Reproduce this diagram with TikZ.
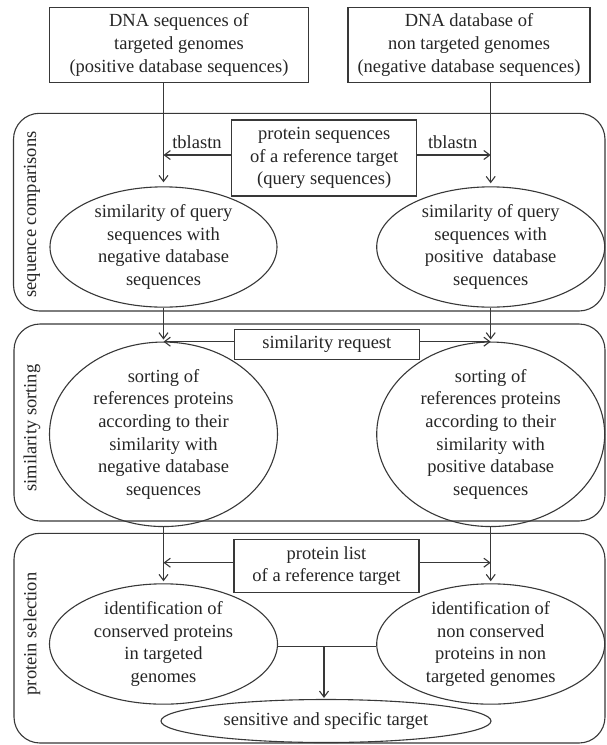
\documentclass[tikz,border=0pt]{standalone}
\usepackage{fontspec}
\setmainfont{Liberation Serif}
\newfontfamily\tnr{Liberation Serif}
\usetikzlibrary{shapes.geometric,arrows.meta}
\begin{document}
\begin{tikzpicture}[x=1pt,y=-1pt,
  every node/.style={font=\tnr\fontsize{18.5}{22.7}\selectfont, text=black!85},
  ln/.style={draw=black!78, line width=1.1pt},
  boxn/.style={ln, rectangle, align=center, inner sep=0pt},
  elln/.style={ln, ellipse, align=center, inner sep=0pt},
  panel/.style={ln, rounded corners=26pt},
  arr/.style={ln, -{Straight Barb[length=6pt,width=9pt]}},
]
\useasboundingbox (0,0) rectangle (606,745);
\fill[white] (0,0) rectangle (606,745);

% panels
\draw[panel] (13.5,113.3) rectangle (605,311);
\draw[panel] (14,324) rectangle (605,521);
\draw[panel] (14,533.3) rectangle (605,743);

\node[rotate=90] (lab1) at (32,214.5) {sequence comparisons};
\node[rotate=90] (lab2) at (32,428) {similarity sorting};
\node[rotate=90] (lab3) at (32,634) {protein selection};

% top boxes
\node[boxn, minimum width=259pt, minimum height=75.4pt] (topL) at (179,45)
  {DNA sequences of\\targeted genomes\\(positive database sequences)};
\node[boxn, minimum width=242pt, minimum height=75.4pt] (topR) at (469,45)
  {DNA database of\\non targeted genomes\\(negative database sequences)};

% panel 1
\node[boxn, minimum width=185pt, minimum height=76pt] (query) at (324.2,158)
  {protein sequences\\of a reference target\\(query sequences)};
\node (tbl1) at (197,142) {tblastn};
\node (tbl2) at (452.7,142) {tblastn};
\node[elln, minimum width=227pt, minimum height=112pt] (e1L) at (163.5,247)
  {similarity of query\\sequences with\\negative database\\sequences};
\node[elln, minimum width=228pt, minimum height=112pt] (e1R) at (490.7,247)
  {similarity of query\\sequences with\\positive\ \ database\\sequences};

% panel 2
\node[boxn, minimum width=185pt, minimum height=30pt] (req) at (326.8,344.3)
  {similarity request};
\node[elln, minimum width=228pt, minimum height=150pt] (e2L) at (163.5,434.3)
  {sorting of\\references proteins\\according to their\\similarity with\\negative database\\sequences};
\node[elln, minimum width=228pt, minimum height=150pt] (e2R) at (490.7,434.3)
  {sorting of\\references proteins\\according to their\\similarity with\\positive database\\sequences};

% panel 3
\node[boxn, minimum width=185pt, minimum height=53.4pt] (list) at (326.5,566)
  {protein list\\of a reference target};
\node[elln, minimum width=228pt, minimum height=114pt] (e3L) at (163.5,644)
  {identification of\\conserved proteins\\in targeted\\genomes};
\node[elln, minimum width=228pt, minimum height=114pt] (e3R) at (490.7,644)
  {identification of\\non conserved\\proteins in non\\targeted genomes};
\node[elln, minimum width=330pt, minimum height=43pt] (tgt) at (326,721)
  {sensitive and specific target};

% vertical flows
\draw[arr, shorten >=4pt] (topL.south -| e1L.north) -- (e1L.north);
\draw[arr, shorten >=3pt] (topR.south -| e1R.north) -- (e1R.north);
\draw[arr, shorten >=2pt] (e1L.south) -- (e2L.north);
\draw[arr, shorten >=2pt] (e1R.south) -- (e2R.north);
\draw[arr, shorten >=2pt] (e2L.south) -- (e3L.north);
\draw[arr, shorten >=2pt] (e2R.south) -- (e3R.north);

% horizontal arrows
\draw[arr] ([yshift=3pt]query.west) -- ([yshift=3pt]query.west -| e1L.north);
\draw[arr] ([yshift=3pt]query.east) -- ([yshift=3pt]query.east -| e1R.north);
\draw[arr] ([yshift=2.6pt]req.west) -- ([yshift=2.6pt]req.west -| e2L.north);
\draw[arr] ([yshift=2.6pt]req.east) -- ([yshift=2.6pt]req.east -| e2R.north);
\draw[arr] ([yshift=3.3pt]list.west) -- ([yshift=3.3pt]list.west -| e3L.north);
\draw[arr] ([yshift=3.3pt]list.east) -- ([yshift=3.3pt]list.east -| e3R.north);

% junction
\draw[ln] ([yshift=-2.5pt]e3L.east) -- ([yshift=-2.5pt]e3L.east -| e3R.west);
\coordinate (jn) at ([yshift=-2.5pt]e3L.east -| 324,0);
\draw[arr, shorten >=1pt] (jn) -- (jn |- tgt.north);
\end{tikzpicture}
\end{document}
